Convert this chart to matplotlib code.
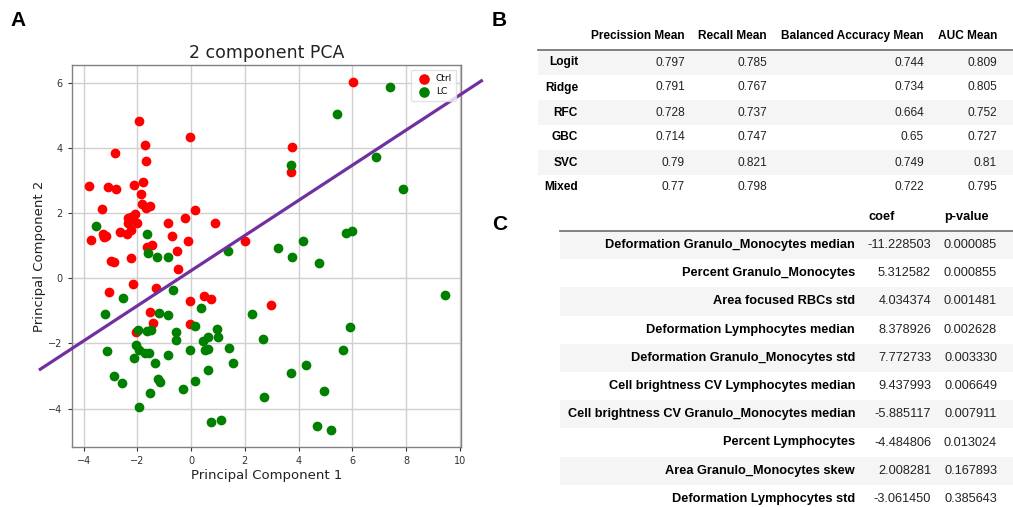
import matplotlib
matplotlib.use("Agg")
import matplotlib.pyplot as plt
from matplotlib.patches import Rectangle
from matplotlib.lines import Line2D

# ---------------- data ----------------
ctrl_x = [-1.93, -0.03, -2.84, -1.73, -1.69, -3.82, -3.10, -2.80, -2.13, -1.79,
          -1.87, -1.85, -1.68, -1.53, -3.33, 0.14, -2.08, -2.36, -2.23, -2.36,
          -2.01, -2.26, -0.22, -0.85, 0.88, -3.74, -3.29, -3.23, -3.16, -2.64,
          -2.39, -2.24, -0.73, -0.11, 1.99, -1.47, -1.65, -0.52, -2.23, -3.00,
          -2.87, -0.50, -2.15, -1.31, -3.05, -0.03, 0.46, 0.73, -1.54, -1.43,
          -0.03, -2.05, 2.97, 6.04, 3.76, 3.72]
ctrl_y = [4.83, 4.34, 3.85, 4.08, 3.59, 2.83, 2.80, 2.75, 2.86, 2.96,
          2.59, 2.27, 2.14, 2.20, 2.11, 2.09, 1.97, 1.84, 1.89, 1.69,
          1.70, 1.79, 1.84, 1.70, 1.70, 1.18, 1.36, 1.26, 1.28, 1.43,
          1.37, 1.47, 1.30, 1.15, 1.15, 1.02, 0.95, 0.84, 0.62, 0.54,
          0.49, 0.27, -0.18, -0.31, -0.42, -0.70, -0.56, -0.64, -1.04, -1.38,
          -1.40, -1.65, -0.81, 6.01, 4.02, 3.26]

lc_x = [-3.56, -1.63, -1.59, -1.27, -0.88, 1.38, 3.22, -0.67, -2.54, -3.22,
        -1.21, -0.88, 0.37, 2.26, -1.99, -1.65, -1.49, -0.58, -0.56, 0.14,
        0.95, 1.00, 0.62, 0.44, 2.67, -2.05, -1.94, -3.12, -1.72, -1.56,
        -0.88, -0.03, 0.51, 0.63, 1.41, -2.13, -1.33, 1.57, 0.63, -2.87,
        -2.57, -1.22, -1.17, 0.14, -0.32, -1.53, 2.72, -1.95, 0.72, 1.12,
        7.41, 5.42, 3.72, 6.89, 7.90, 5.76, 5.98, 4.18, 3.76, 4.75,
        9.44, 5.93, 5.65, 4.28, 3.72, 4.96, 4.70, 5.22]
lc_y = [1.60, 1.36, 0.76, 0.64, 0.64, 0.84, 0.94, -0.37, -0.62, -1.10,
        -1.07, -1.14, -0.91, -1.10, -1.60, -1.62, -1.58, -1.65, -1.89, -1.46,
        -1.57, -1.81, -1.80, -1.94, -1.86, -2.06, -2.21, -2.23, -2.29, -2.29,
        -2.35, -2.21, -2.21, -2.18, -2.13, -2.45, -2.60, -2.59, -2.83, -3.00,
        -3.22, -3.09, -3.18, -3.15, -3.40, -3.51, -3.66, -3.94, -4.40, -4.35,
        5.86, 5.05, 3.48, 3.72, 2.75, 1.40, 1.45, 1.13, 0.64, 0.46,
        -0.51, -1.51, -2.21, -2.65, -2.91, -3.46, -4.53, -4.65]

# separating line (two end points, data units)
line_x = [-5.67, 10.86]
line_y = [-2.82, 6.08]

# table B
b_columns = ["Precission Mean", "Recall Mean", "Balanced Accuracy Mean", "AUC Mean"]
b_rows = ["Logit", "Ridge", "RFC", "GBC", "SVC", "Mixed"]
b_precision = ["0.797", "0.791", "0.728", "0.714", "0.79", "0.77"]
b_recall = ["0.785", "0.767", "0.737", "0.747", "0.821", "0.798"]
b_balacc = ["0.744", "0.734", "0.664", "0.65", "0.749", "0.722"]
b_auc = ["0.809", "0.805", "0.752", "0.727", "0.81", "0.795"]

# table C
c_columns = ["coef", "p-value"]
c_rows = ["Deformation Granulo_Monocytes median", "Percent Granulo_Monocytes",
          "Area focused RBCs std", "Deformation Lymphocytes median",
          "Deformation Granulo_Monocytes std", "Cell brightness CV Lymphocytes median",
          "Cell brightness CV Granulo_Monocytes median", "Percent Lymphocytes",
          "Area Granulo_Monocytes skew", "Deformation Lymphocytes std"]
c_coef = ["-11.228503", "5.312582", "4.034374", "8.378926", "7.772733",
          "9.437993", "-5.885117", "-4.484806", "2.008281", "-3.061450"]
c_pvalue = ["0.000085", "0.000855", "0.001481", "0.002628", "0.003330",
            "0.006649", "0.007911", "0.013024", "0.167893", "0.385643"]

# ---------------- figure ----------------
W, H = 1013, 507
fig = plt.figure(figsize=(W / 100, H / 100), dpi=100)


def fx(x):
    return x / W


def fy(y):
    return 1 - y / H


# ---- panel A ----
ax = fig.add_axes([fx(71.7), fy(446.7), fx(461) - fx(71.7), fy(65) - fy(446.7)])
ax.scatter(ctrl_x, ctrl_y, color="red", s=36, label="Ctrl", zorder=3)
ax.scatter(lc_x, lc_y, color="green", s=36, label="LC", zorder=3)
ax.plot(line_x, line_y, color="#7030a0", lw=2.3, clip_on=False, zorder=4,
        solid_capstyle="butt")
ax.set_xlim(-4.45, 10.05)
ax.set_ylim(-5.17, 6.54)
ax.set_xticks([-4, -2, 0, 2, 4, 6, 8, 10])
ax.set_yticks([-4, -2, 0, 2, 4, 6])
ax.grid(True, color="#d0d0d0", lw=1.0)
ax.set_axisbelow(True)
for sp in ax.spines.values():
    sp.set_color("#808080")
    sp.set_linewidth(1.0)
ax.tick_params(labelsize=7, colors="#333333", length=3, width=0.8)
ax.set_title("2 component PCA", fontsize=12.5, color="#222222", pad=5)
ax.set_xlabel("Principal Component 1", fontsize=9.5, color="#222222", labelpad=2)
ax.set_ylabel("Principal Component 2", fontsize=9.5, color="#222222", labelpad=2)
leg = ax.legend(loc="upper right", fontsize=6.5, handletextpad=0.4,
                borderpad=0.5, labelspacing=0.45, handlelength=1.8,
                markerscale=1.1)
leg.get_frame().set_edgecolor("#dddddd")

# panel letters
letter_kw = dict(fontsize=15, fontweight="bold", family="Liberation Sans",
                 color="black", va="center", ha="left")
fig.text(fx(10), fy(20), "A", **letter_kw)
fig.text(fx(492), fy(20), "B", **letter_kw)
fig.text(fx(492), fy(225), "C", **letter_kw)

shade = "#f5f5f5"
lab_kw = dict(family="Liberation Sans", fontweight="bold", color="black",
              va="center")
val_kw = dict(family="Liberation Sans", color="#222222", va="center")

# ---- table B ----
b_left, b_right = 538, 1013
b_header_y = 36
b_line_y = 50
b_row_h = 25
b_label_right = 578
b_col_right = [685, 767, 924, 997]
b_values = [b_precision, b_recall, b_balacc, b_auc]
fsB = 8.6
for i, name in enumerate(b_columns):
    fig.text(fx(b_col_right[i]), fy(b_header_y), name, fontsize=fsB, ha="right",
             **lab_kw)
fig.add_artist(Line2D([fx(b_left), fx(b_right)], [fy(b_line_y), fy(b_line_y)],
                      color="#777777", lw=1.3))
for r, name in enumerate(b_rows):
    top = b_line_y + r * b_row_h
    cy = top + b_row_h / 2
    if r % 2 == 0:
        fig.add_artist(Rectangle((fx(b_left), fy(top + b_row_h)),
                                 fx(b_right) - fx(b_left), fy(top) - fy(top + b_row_h),
                                 facecolor=shade, edgecolor="none", zorder=0))
    fig.text(fx(b_label_right), fy(cy), name, fontsize=fsB, ha="right", **lab_kw)
    for c in range(4):
        fig.text(fx(b_col_right[c]), fy(cy), b_values[c][r], fontsize=fsB,
                 ha="right", **val_kw)

# ---- table C ----
c_left, c_right = 560, 1013
c_header_y = 217
c_line_y = 231
c_row_h = 28.2
c_label_right = 855
c_col_left = [868, 944]
c_col_right = [931, 997]
c_values = [c_coef, c_pvalue]
fsC = 9.15
for i, name in enumerate(c_columns):
    fig.text(fx(c_col_left[i]), fy(c_header_y), name, fontsize=fsC, ha="left",
             **lab_kw)
fig.add_artist(Line2D([fx(c_left), fx(c_right)], [fy(c_line_y), fy(c_line_y)],
                      color="#777777", lw=1.3))
for r, name in enumerate(c_rows):
    top = c_line_y + r * c_row_h
    cy = top + c_row_h / 2
    if r % 2 == 0:
        fig.add_artist(Rectangle((fx(c_left), fy(top + c_row_h)),
                                 fx(c_right) - fx(c_left), fy(top) - fy(top + c_row_h),
                                 facecolor=shade, edgecolor="none", zorder=0))
    fig.text(fx(c_label_right), fy(cy), name, fontsize=fsC, ha="right", **lab_kw)
    for c in range(2):
        fig.text(fx(c_col_right[c]), fy(cy), c_values[c][r], fontsize=fsC,
                 ha="right", **val_kw)

fig.savefig("out.png", dpi=100)
